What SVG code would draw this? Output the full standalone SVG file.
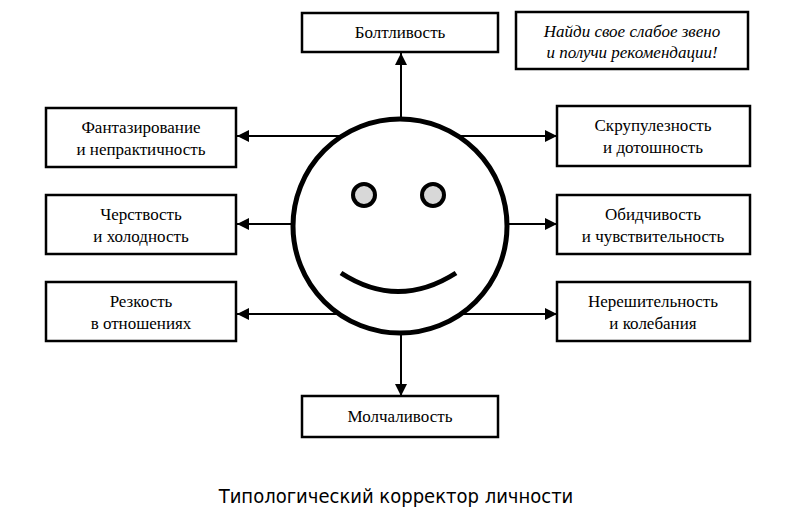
<svg xmlns="http://www.w3.org/2000/svg" width="800" height="520" viewBox="0 0 800 520">
<defs>
<marker id="ah" viewBox="0 0 10 10" refX="10" refY="5" markerWidth="7" markerHeight="6" markerUnits="strokeWidth" orient="auto"><path d="M0,0 L10,5 L0,10 z" fill="#000"/></marker>
<style>
.b{fill:#fff;stroke:#000;stroke-width:2.5}
.t{font-family:"Liberation Serif",serif;font-size:17px;text-anchor:middle;fill:#000}
.i{font-style:italic}
.c{stroke:#000;stroke-width:2;fill:none;marker-end:url(#ah)}
</style>
</defs>
<rect width="800" height="520" fill="#fff"/>
<g id="connectors">
<line class="c" x1="401" y1="118" x2="401" y2="53"/>
<line class="c" x1="401" y1="335" x2="401" y2="396"/>
<line class="c" x1="340" y1="136" x2="237" y2="136"/>
<line class="c" x1="460" y1="136" x2="557" y2="136"/>
<line class="c" x1="293" y1="224" x2="237" y2="224"/>
<line class="c" x1="508" y1="224" x2="557" y2="224"/>
<line class="c" x1="340" y1="314" x2="237" y2="314"/>
<line class="c" x1="460" y1="314" x2="557" y2="314"/>
</g>
<g id="face">
<circle cx="400" cy="226" r="107" fill="#fff" stroke="#000" stroke-width="5"/>
<circle cx="364" cy="195" r="11" fill="#d8d8d8" stroke="#000" stroke-width="4"/>
<circle cx="433" cy="195" r="11" fill="#d8d8d8" stroke="#000" stroke-width="4"/>
<path d="M341,273 Q398,310 456,273" fill="none" stroke="#000" stroke-width="5"/>
</g>
<g id="n-top"><rect class="b" x="302" y="13" width="196" height="39"/><text class="t" x="400" y="38">Болтливость</text></g>
<g id="n-note"><rect class="b" x="516" y="12" width="232" height="57" stroke-width="3"/><text class="t i" x="632" y="37">Найди свое слабое звено</text><text class="t i" x="632" y="58">и получи рекомендации!</text></g>
<g id="n-l1"><rect class="b" x="46" y="108" width="190" height="59"/><text class="t" x="141" y="133">Фантазирование</text><text class="t" x="141" y="155">и непрактичность</text></g>
<g id="n-l2"><rect class="b" x="46" y="195" width="190" height="59"/><text class="t" x="141" y="220">Черствость</text><text class="t" x="141" y="242">и холодность</text></g>
<g id="n-l3"><rect class="b" x="46" y="282" width="190" height="59"/><text class="t" x="141" y="307">Резкость</text><text class="t" x="141" y="329">в отношениях</text></g>
<g id="n-r1"><rect class="b" x="557" y="106" width="193" height="60"/><text class="t" x="653" y="131">Скрупулезность</text><text class="t" x="653" y="153">и дотошность</text></g>
<g id="n-r2"><rect class="b" x="557" y="195" width="193" height="59"/><text class="t" x="653" y="220">Обидчивость</text><text class="t" x="653" y="242">и чувствительность</text></g>
<g id="n-r3"><rect class="b" x="557" y="282" width="193" height="59"/><text class="t" x="653" y="307">Нерешительность</text><text class="t" x="653" y="329">и колебания</text></g>
<g id="n-bottom"><rect class="b" x="302" y="396" width="196" height="41"/><text class="t" x="400" y="422">Молчаливость</text></g>
<text x="396" y="503" font-family="'DejaVu Sans Condensed','DejaVu Sans',sans-serif" font-stretch="condensed" font-size="20" text-anchor="middle" fill="#000">Типологический корректор личности</text>
</svg>
